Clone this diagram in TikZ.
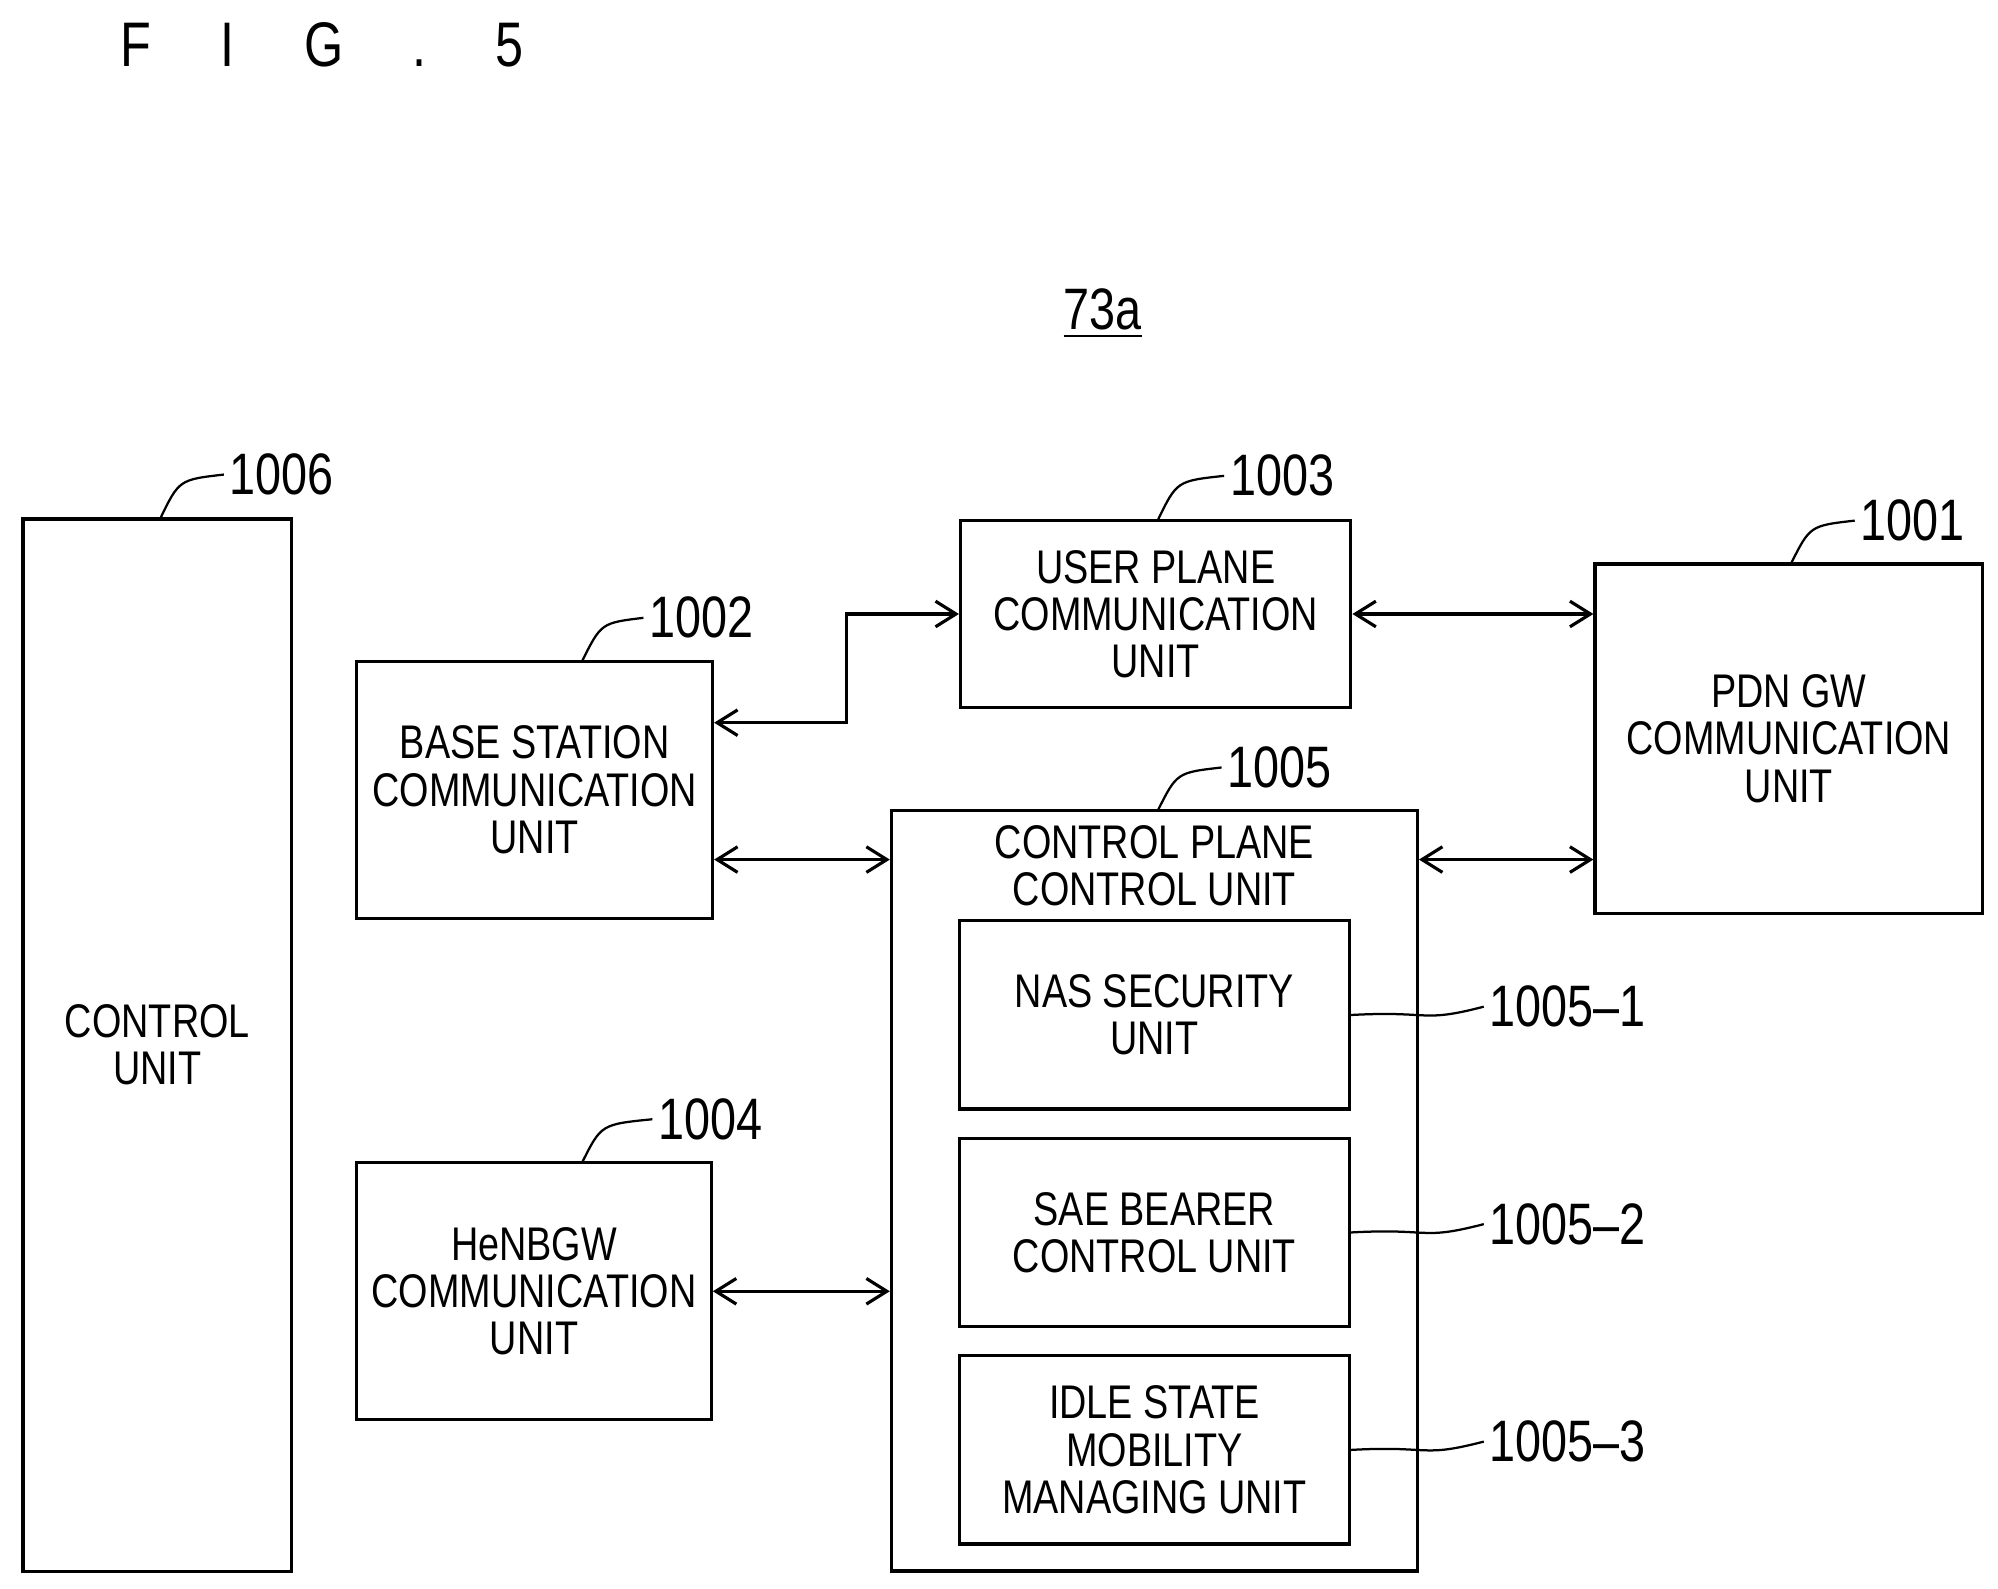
\documentclass[tikz,border=0pt]{standalone}
\usepackage{fontspec}
\setmainfont{Liberation Sans}[FakeStretch=0.8]
\usetikzlibrary{arrows.meta}
\begin{document}
\begin{tikzpicture}[x=0.01cm, y=-0.01cm, line width=0.7pt,
  box/.style={draw, align=center, inner sep=0pt, font=\fontsize{10.5}{10.5}\selectfont},
  ref/.style={font=\fontsize{13}{14}\selectfont, anchor=west, inner sep=1pt},
  arr/.style={{Straight Barb[length=1.6mm,width=2mm]}-{Straight Barb[length=1.6mm,width=2mm]}}]
\useasboundingbox (0,0) rectangle (1562,1242);
% Title
\node[font=\fontsize{14}{14}\selectfont] (fig) at (252,35) {F\hspace{1.1em}I\hspace{1.1em}G\hspace{1.1em}.\hspace{1.1em}5};
\node[font=\fontsize{13}{14}\selectfont] (dev) at (862,245) {\underline{73a}};

% Blocks
\node[box, minimum width=2.10cm, minimum height=8.22cm] (ctrl) at (123,817) {CONTROL\\UNIT};
\node[box, minimum width=2.78cm, minimum height=2.01cm] (base) at (418,617.5) {BASE STATION\\COMMUNICATION\\UNIT};
\node[box, minimum width=3.05cm, minimum height=1.46cm] (user) at (903.5,480) {USER PLANE\\COMMUNICATION\\UNIT};
\node[box, minimum width=3.03cm, minimum height=2.73cm] (pdn) at (1398.5,577.5) {PDN GW\\COMMUNICATION\\UNIT};
\node[box, minimum width=4.11cm, minimum height=5.94cm] (cp) at (902.5,931) {};
\node[box, draw=none] (cptxt) at (902.5,677) {CONTROL PLANE\\CONTROL UNIT};
\node[box, minimum width=3.05cm, minimum height=1.47cm] (nas) at (902.5,793.5) {NAS SECURITY\\UNIT};
\node[box, minimum width=3.05cm, minimum height=1.47cm] (sae) at (902.5,963.5) {SAE BEARER\\CONTROL UNIT};
\node[box, minimum width=3.05cm, minimum height=1.47cm] (idle) at (902.5,1133.5) {IDLE STATE\\MOBILITY\\MANAGING UNIT};
\node[box, minimum width=2.77cm, minimum height=2.01cm] (henb) at (417.5,1009.5) {HeNBGW\\COMMUNICATION\\UNIT};

% Connections
\draw[arr] (base.east |- 0,565) -- (662,565) |- (user.west);
\draw[arr] (user.east) -- (pdn.west |- user.east);
\draw[arr] (base.east |- 0,672) -- (cp.west |- 0,672);
\draw[arr] (cp.east |- 0,672) -- (pdn.west |- 0,672);
\draw[arr] (henb.east) -- (cp.west |- henb.east);

% Reference numerals
\node[ref] (n1006) at (175,371) {1006};
\node[ref] (n1002) at (503,483) {1002};
\node[ref] (n1003) at (957,372) {1003};
\node[ref] (n1001) at (1450,407) {1001};
\node[ref] (n1005) at (955,600) {1005};
\node[ref] (n1004) at (510,875) {1004};
\node[ref] (n10051) at (1160,787) {1005\textendash1};
\node[ref] (n10052) at (1160,957) {1005\textendash2};
\node[ref] (n10053) at (1160,1127) {1005\textendash3};
\draw[line width=0.5pt] (125,406) .. controls (140,375) .. (n1006.west);
\draw[line width=0.5pt] (455,517) .. controls (470,487) .. (n1002.west);
\draw[line width=0.5pt] (905,407) .. controls (920,376) .. (n1003.west);
\draw[line width=0.5pt] (1400,441) .. controls (1415,411) .. (n1001.west);
\draw[line width=0.5pt] (905,634) .. controls (920,604) .. (n1005.west);
\draw[line width=0.5pt] (455,909) .. controls (470,879) .. (n1004.west);
\draw[line width=0.5pt] (nas.east) .. controls (1120,790) and (1110,800) .. (n10051.west);
\draw[line width=0.5pt] (sae.east) .. controls (1120,960) and (1110,970) .. (n10052.west);
\draw[line width=0.5pt] (idle.east) .. controls (1120,1130) and (1110,1140) .. (n10053.west);
\end{tikzpicture}
\end{document}
